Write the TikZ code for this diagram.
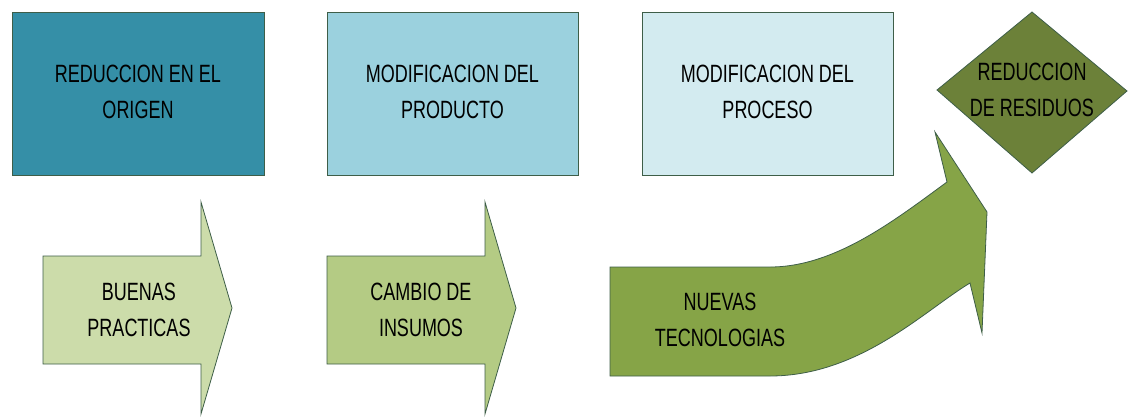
\documentclass[tikz,border=0pt]{standalone}
\usepackage{fontspec}
\setmainfont[FakeStretch=0.72]{Liberation Sans}
\definecolor{cA}{HTML}{358FA7}
\definecolor{cB}{HTML}{9BD1DE}
\definecolor{cC}{HTML}{D3EBF0}
\definecolor{cD}{HTML}{CCDCAA}
\definecolor{cE}{HTML}{B4CB84}
\definecolor{cF}{HTML}{86A447}
\definecolor{cG}{HTML}{6C8139}
\definecolor{edge}{HTML}{3E5E48}
\tikzset{
  shp/.style={draw=edge, line width=0.8pt, line join=miter},
  lbl/.style={align=center, font=\fontsize{25}{36}\selectfont, text=black, inner sep=0pt}
}
\begin{document}
\begin{tikzpicture}[x=1pt,y=-1pt]
\useasboundingbox (0,0) rectangle (1128,416);
% top boxes
\draw[shp, fill=cA] (12,12) rectangle (264,175);
\node[lbl] (t1) at (138,92) {REDUCCION EN EL\\ORIGEN};
\draw[shp, fill=cB] (327,12) rectangle (578,175);
\node[lbl] (t2) at (452.5,92) {MODIFICACION DEL\\PRODUCTO};
\draw[shp, fill=cC] (642,12) rectangle (893,175);
\node[lbl] (t3) at (767.5,92) {MODIFICACION DEL\\PROCESO};
% diamond
\draw[shp, fill=cG] (1032,12) -- (1127,91) -- (1032,173) -- (937,90) -- cycle;
\node[lbl] (t4) at (1032,90) {REDUCCION\\DE RESIDUOS};
% straight arrows
\draw[shp, fill=cD] (43,256) -- (201,256) -- (201,202) -- (232,308) -- (201,414) -- (201,364) -- (43,364) -- cycle;
\node[lbl] (a1) at (139,310) {BUENAS\\PRACTICAS};
\draw[shp, fill=cE] (327,256) -- (485,256) -- (485,202) -- (516,308) -- (485,414) -- (485,364) -- (327,364) -- cycle;
\node[lbl] (a2) at (421,310) {CAMBIO DE\\INSUMOS};
% curved arrow
\draw[shp, fill=cF] (610,267) -- (770,267) .. controls (835,267) and (895,220) .. (947,182)
  -- (935,132) -- (987,212) -- (982,333) -- (970,283)
  .. controls (925,310) and (860,376) .. (770,376) -- (610,376) -- cycle;
\node[lbl] (a3) at (720,320) {NUEVAS\\TECNOLOGIAS};
\end{tikzpicture}
\end{document}
